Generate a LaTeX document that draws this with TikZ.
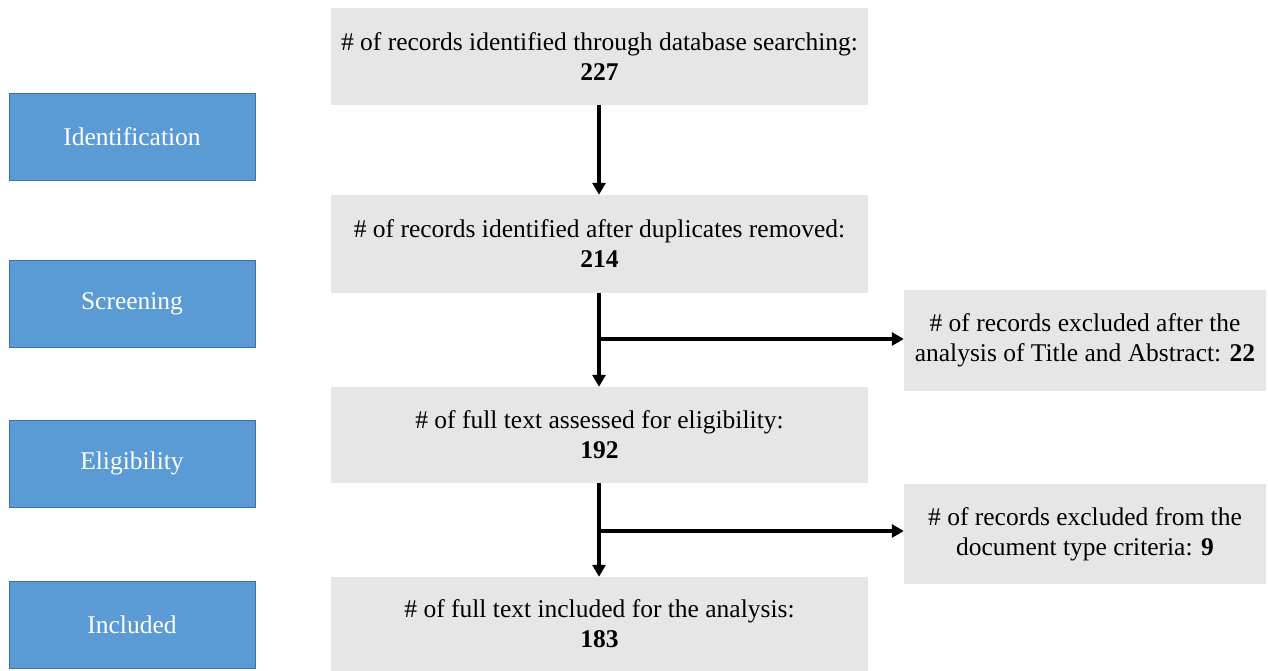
\documentclass[tikz,border=0pt]{standalone}
\usepackage{fontspec}
\setmainfont{Liberation Serif}
\usetikzlibrary{arrows.meta}
\definecolor{stageblue}{HTML}{5B9BD5}
\definecolor{stageedge}{HTML}{41719C}
\definecolor{boxgray}{HTML}{E7E6E6}
\begin{document}
\begin{tikzpicture}[x=1pt,y=1pt,
  stage/.style={draw=stageedge,line width=0.8pt,fill=stageblue,text=white,minimum width=246pt,minimum height=87pt,inner sep=0pt,font=\fontsize{25.5}{30}\selectfont},
  mainbox/.style={fill=boxgray,minimum width=537pt,inner sep=0pt,align=center,font=\fontsize{25.5}{30}\selectfont},
  sidebox/.style={fill=boxgray,minimum width=362pt,inner sep=0pt,align=center,font=\fontsize{25.5}{30}\selectfont},
  flow/.style={line width=3.6pt,-{Triangle[length=12pt,width=13pt]}}]
\useasboundingbox (0,0) rectangle (1268,-671);
\node[stage] (s1) at (132,-136.5) {Identification};
\node[stage] (s2) at (132,-304) {Screening};
\node[stage] (s3) at (132,-463.5) {Eligibility};
\node[stage] (s4) at (132,-624.5) {Included};
\node[mainbox,minimum height=97pt] (b1) at (599.5,-56.5) {\# of records identified through database searching:\\\textbf{227}};
\node[mainbox,minimum height=98pt] (b2) at (599.5,-244) {\# of records identified after duplicates removed:\\\textbf{214}};
\node[mainbox,minimum height=96pt] (b3) at (599.5,-435) {\# of full text assessed for eligibility:\\\textbf{192}};
\node[mainbox,minimum height=94pt] (b4) at (599.5,-624) {\# of full text included for the analysis:\\\textbf{183}};
\node[sidebox,minimum height=101pt] (r1) at (1085,-340.5) {\# of records excluded after the\\analysis of Title and Abstract: \textbf{22}};
\node[sidebox,minimum height=100pt] (r2) at (1085,-534) {\# of records excluded from the\\document type criteria: \textbf{9}};
\coordinate (j1) at (599,-339);
\coordinate (j2) at (599,-531);
\draw[flow] ([xshift=-0.5pt]b1.south) -- ([xshift=-0.5pt]b2.north);
\draw[flow] ([xshift=-0.5pt]b2.south) -- ([xshift=-0.5pt]b3.north);
\draw[flow] ([xshift=-1.8pt]j1) -- (j1 -| r1.west);
\draw[flow] ([xshift=-0.5pt]b3.south) -- ([xshift=-0.5pt]b4.north);
\draw[flow] ([xshift=-1.8pt]j2) -- (j2 -| r2.west);
\end{tikzpicture}
\end{document}
